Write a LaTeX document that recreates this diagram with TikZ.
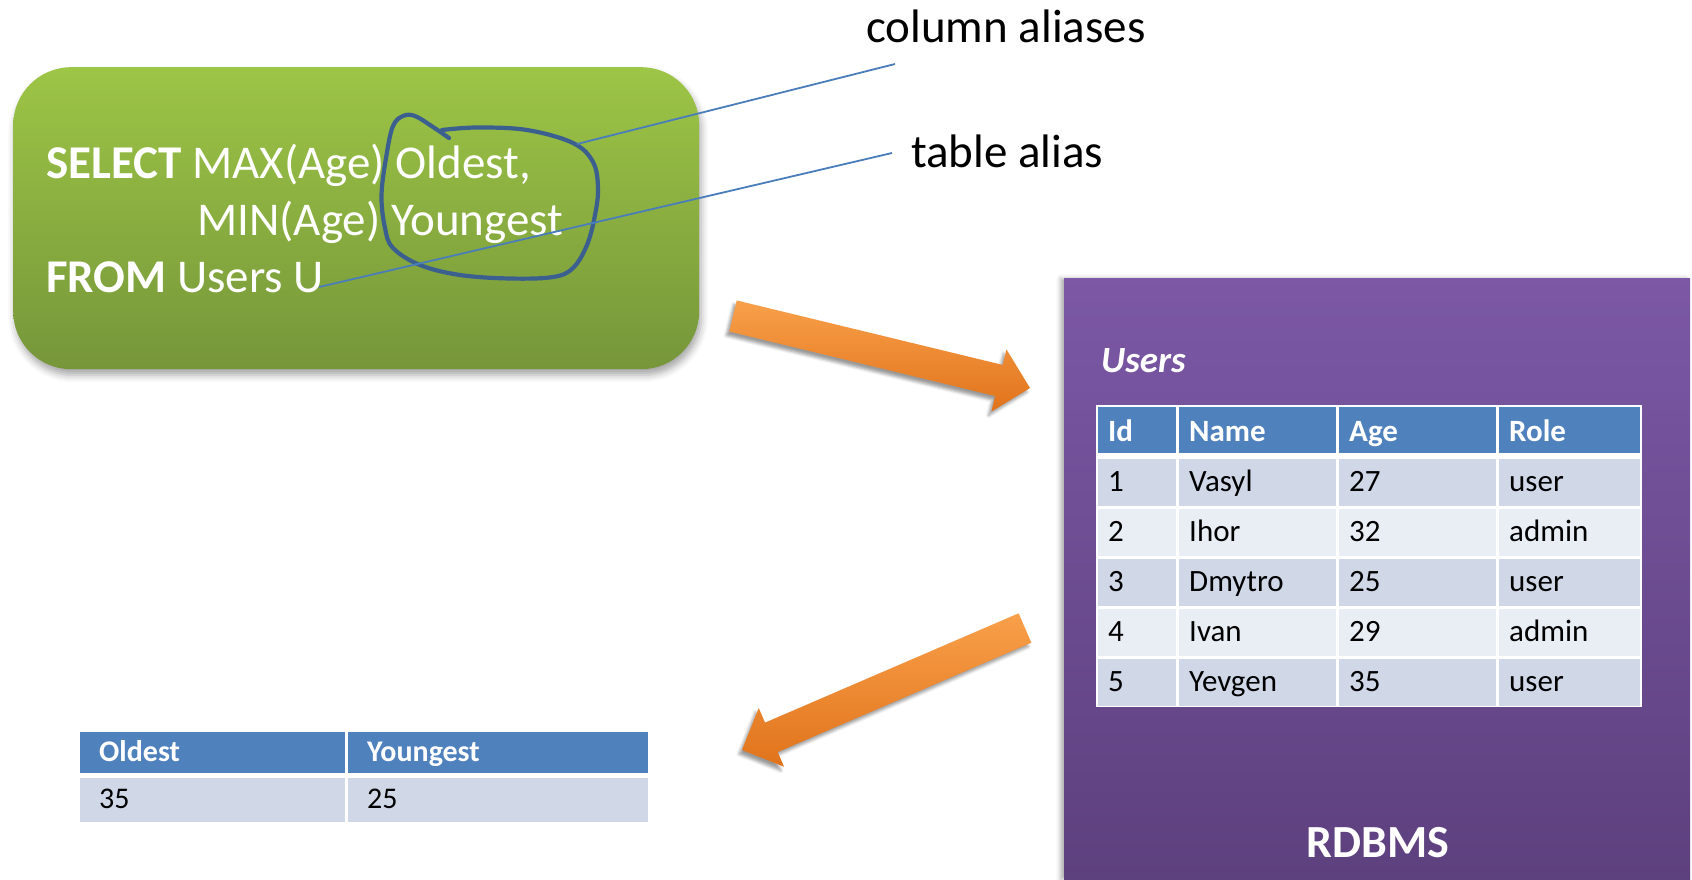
\documentclass[tikz,border=0pt]{standalone}
\usepackage{fontspec}
\setmainfont{Carlito}
\usetikzlibrary{calc,shadows.blur}
\definecolor{qgreenhi}{HTML}{9DC546}
\definecolor{qgreenlo}{HTML}{76963A}
\definecolor{dbhi}{HTML}{7C58A5}
\definecolor{dblo}{HTML}{5D407E}
\definecolor{hdrblue}{HTML}{4F81BD}
\definecolor{rowdark}{HTML}{D0D8E8}
\definecolor{rowlight}{HTML}{E9EDF4}
\definecolor{inkblue}{HTML}{3B5F8F}
\definecolor{leader}{HTML}{4A7EBB}
\definecolor{arrowhi}{HTML}{F9A04A}
\definecolor{arrowlo}{HTML}{E0731B}

% block arrow from #2 (tail) to #3 (tip)
\newcommand\bigarrow[3][]{%
  \coordinate (#2-hb) at ($(#3)!32pt!(#2)$);
  \path[blockarrow,#1] ($(#2)!16pt!90:(#3)$) -- ($(#2-hb)!16pt!90:(#3)$)
    -- ($(#2-hb)!32pt!90:(#3)$) -- (#3) -- ($(#2-hb)!32pt!-90:(#3)$)
    -- ($(#2-hb)!16pt!-90:(#3)$) -- ($(#2)!16pt!-90:(#3)$) -- cycle;}

\begin{document}
\begin{tikzpicture}[x=1pt,y=-1pt,
  qbox/.style={rectangle,rounded corners=58pt,top color=qgreenhi,bottom color=qgreenlo,
    minimum width=686pt,minimum height=302pt,inner sep=0pt,
    blur shadow={shadow xshift=2pt,shadow yshift=-6pt,shadow blur radius=7pt,shadow opacity=35}},
  qtext/.style={anchor=base west,inner sep=0pt,text=white,font=\fontsize{47}{56}\selectfont},
  note/.style={anchor=base west,inner sep=0pt,font=\fontsize{47}{56}\selectfont},
  leaderline/.style={draw=leader,line width=1.8pt},
  ring/.style={draw=inkblue,line width=4.2pt,line cap=round,line join=round},
  blockarrow/.style={top color=arrowhi,bottom color=arrowlo,
    blur shadow={shadow xshift=-3pt,shadow yshift=-4pt,shadow blur radius=3pt,shadow opacity=40}},
  dbbox/.style={rectangle,top color=dbhi,bottom color=dblo,inner sep=0pt,
    minimum width=626pt,minimum height=601pt,
    blur shadow={shadow xshift=-4pt,shadow yshift=0pt,shadow blur radius=4pt,shadow opacity=30}},
  cell/.style={rectangle,anchor=west,inner xsep=10pt,inner ysep=0pt,minimum height=47pt,
    text height=23pt,text depth=5pt,align=left,font=\fontsize{31}{37}\selectfont},
  hcell/.style={cell,fill=hdrblue,text=white,minimum height=46pt,text height=25pt,text depth=3pt,
    font=\fontsize{31}{37}\selectfont\bfseries},
  rowodd/.style={cell,fill=rowdark},
  roweven/.style={cell,fill=rowlight},
  wid/.style={text width=58pt},
  wname/.style={text width=137pt},
  wage/.style={text width=137pt},
  wrole/.style={text width=121pt},
  rcell/.style={rectangle,anchor=west,inner xsep=19pt,inner ysep=0pt,minimum height=44pt,
    text height=22pt,text depth=5pt,align=left,fill=rowdark,font=\fontsize{30}{36}\selectfont},
  rhcell/.style={rcell,fill=hdrblue,text=white,minimum height=41pt,font=\fontsize{30}{36}\selectfont\bfseries}]

\useasboundingbox (0,0) rectangle (1692,879);

% query
\node[qbox,anchor=north west] (qry) at (13,67) {};
\node[qtext] (q1) at (46,178) {\textbf{SELECT} MAX(Age) Oldest,};
\node[qtext] (q2) at (197,235) {MIN(Age) Youngest};
\node[qtext] (q3) at (46,292) {\textbf{FROM} Users U};

\draw[ring] plot[smooth,tension=0.6] coordinates {(442,130) (477,127.5) (527,130)
  (573,143) (593,162) (598,188) (595,215) (587,245) (573,268) (553,277) (510,278.5)
  (460,275) (420,265) (393,248) (385,228) (381.5,195) (386.5,155) (393,126) (403,116)
  (415,116) (433,127) (449,138)};

\node[note] (colal) at (866,42) {column aliases};
\node[note] (tabal) at (911,167) {table alias};
\coordinate (ringhit) at (577,144);
\draw[leaderline] ([xshift=29pt,yshift=-22pt]colal.base west) -- (ringhit);
\draw[leaderline] ([xshift=-19pt,yshift=14pt]tabal.base west) -- ([xshift=-5pt,yshift=5pt]q3.base east);

% database
\node[dbbox,anchor=north west] (db) at (1064,278) {};
\node[anchor=base west,inner sep=0pt,text=white,font=\fontsize{37}{44}\selectfont\bfseries\itshape] (utitle) at (1101,372) {Users};
\node[rectangle,fill=white,inner sep=0pt,minimum width=546pt,minimum height=302pt,anchor=north west] (usrtab) at (1096,405) {};

\node[hcell,wid]   (h1) at (1098,430) {Id};
\node[hcell,wname] (h2) at (1179,430) {Name};
\node[hcell,wage]  (h3) at (1339,430) {Age};
\node[hcell,wrole] (h4) at (1499,430) {Role};

\node[rowodd,wid]   (r11) at (1098,482) {1};
\node[rowodd,wname] (r12) at (1179,482) {Vasyl};
\node[rowodd,wage]  (r13) at (1339,482) {27};
\node[rowodd,wrole] (r14) at (1499,482) {user};

\node[roweven,wid]   (r21) at (1098,532) {2};
\node[roweven,wname] (r22) at (1179,532) {Ihor};
\node[roweven,wage]  (r23) at (1339,532) {32};
\node[roweven,wrole] (r24) at (1499,532) {admin};

\node[rowodd,wid]   (r31) at (1098,582) {3};
\node[rowodd,wname] (r32) at (1179,582) {Dmytro};
\node[rowodd,wage]  (r33) at (1339,582) {25};
\node[rowodd,wrole] (r34) at (1499,582) {user};

\node[roweven,wid]   (r41) at (1098,632) {4};
\node[roweven,wname] (r42) at (1179,632) {Ivan};
\node[roweven,wage]  (r43) at (1339,632) {29};
\node[roweven,wrole] (r44) at (1499,632) {admin};

\node[rowodd,wid]   (r51) at (1098,682) {5};
\node[rowodd,wname] (r52) at (1179,682) {Yevgen};
\node[rowodd,wage]  (r53) at (1339,682) {35};
\node[rowodd,wrole] (r54) at (1499,682) {user};

\node[anchor=base,inner sep=0pt,text=white,font=\fontsize{46}{55}\selectfont\bfseries] (dbname) at (1378,857) {RDBMS};

% request and result
\coordinate (toDb) at (733,316);
\coordinate (toDbTip) at (1030,388);
\coordinate (fromDb) at (1025,628);
\coordinate (fromDbTip) at (742,750);
\bigarrow{toDb}{toDbTip}
\bigarrow{fromDb}{fromDbTip}

\node[rhcell,text width=227pt] (old) at (80,752.5) {Oldest};
\node[rhcell,text width=262pt] (yng) at (348,752.5) {Youngest};
\node[rcell,text width=227pt] (oldv) at (80,800) {35};
\node[rcell,text width=262pt] (yngv) at (348,800) {25};
\end{tikzpicture}
\end{document}
